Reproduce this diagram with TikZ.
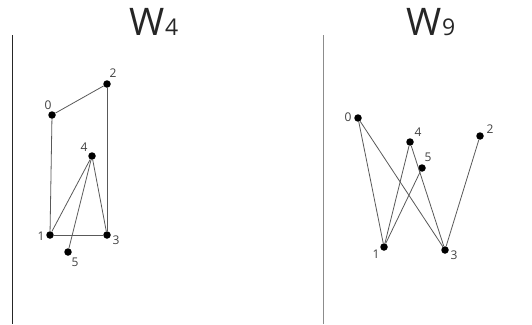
\documentclass[tikz,border=0pt]{standalone}
\usepackage{fontspec}
\setmainfont{Open Sans}
\begin{document}
\begin{tikzpicture}[x=1pt,y=-1pt,
  dot/.style={circle,fill=black,inner sep=0pt,minimum size=7.5pt},
  lbl/.style={font=\fontsize{12}{13}\selectfont,text=black!75,inner sep=1pt},
  edge/.style={draw=black!65,line width=0.8pt},
  title/.style={anchor=base,inner sep=0pt,text=black!85}]
\useasboundingbox (0,0) rectangle (532,324);
% panel dividers
\draw[line width=1pt,black!85] (12,35) -- (12,324);
\draw[line width=1pt,black!45] (323,35) -- (323,324);
% titles
\node[title] (t1) at (154,35) {\fontsize{38}{38}\selectfont W\fontsize{23}{23}\selectfont 4};
\node[title] (t2) at (431,35) {\fontsize{38}{38}\selectfont W\fontsize{23}{23}\selectfont 9};
% left graph W4
\node[dot] (a0) at (52,115) {};
\node[dot] (a2) at (107,84) {};
\node[dot] (a4) at (92,156) {};
\node[dot] (a1) at (50,235) {};
\node[dot] (a3) at (107,235) {};
\node[dot] (a5) at (68,252) {};
\node[lbl] (la0) at (48,105) {0};
\node[lbl] (la2) at (113,73) {2};
\node[lbl] (la4) at (84,147) {4};
\node[lbl] (la1) at (41,236) {1};
\node[lbl] (la3) at (116,240) {3};
\node[lbl] (la5) at (75,262) {5};
\draw[edge] (a0) -- (a2);
\draw[edge] (a0) -- (a1);
\draw[edge] (a2) -- (a3);
\draw[edge] (a1) -- (a3);
\draw[edge] (a1) -- (a4);
\draw[edge] (a4) -- (a3);
\draw[edge] (a4) -- (a5);
% right graph W9
\node[dot] (b0) at (358,118) {};
\node[dot] (b4) at (410,142) {};
\node[dot] (b5) at (422,168) {};
\node[dot] (b2) at (480,136) {};
\node[dot] (b1) at (384,247) {};
\node[dot] (b3) at (445,250) {};
\node[lbl] (lb0) at (348,117) {0};
\node[lbl] (lb4) at (418,132) {4};
\node[lbl] (lb5) at (428,157) {5};
\node[lbl] (lb2) at (490,129) {2};
\node[lbl] (lb1) at (376,254) {1};
\node[lbl] (lb3) at (454,255) {3};
\draw[edge] (b0) -- (b1);
\draw[edge] (b0) -- (b3);
\draw[edge] (b4) -- (b1);
\draw[edge] (b4) -- (b3);
\draw[edge] (b5) -- (b1);
\draw[edge] (b2) -- (b3);
\end{tikzpicture}
\end{document}
